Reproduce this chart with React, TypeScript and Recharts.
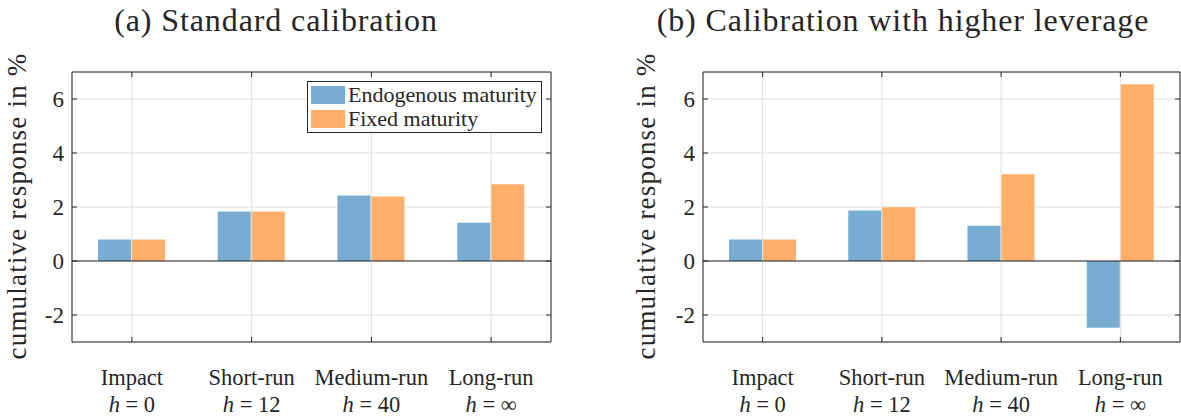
import React from 'react';
import { BarChart, Bar, XAxis, YAxis, CartesianGrid, ReferenceLine, Legend } from 'recharts';

// ---------- data ----------
const categories = ['Impact', 'Short-run', 'Medium-run', 'Long-run'];
const horizons = ['0', '12', '40', '\u221E'];
const seriesNames = ['Endogenous maturity', 'Fixed maturity'];
const endogenousA = [0.8, 1.83, 2.43, 1.42];
const fixedA = [0.8, 1.83, 2.39, 2.84];
const endogenousB = [0.8, 1.87, 1.31, -2.47];
const fixedB = [0.8, 1.99, 3.21, 6.55];
const yTicks = [-2, 0, 2, 4, 6];
const yDomain = [-3, 7];
const titles = ['(a) Standard calibration', '(b) Calibration with higher leverage'];
const yLabel = 'cumulative response in %';

// ---------- style ----------
const FONT = "'Liberation Serif', 'Times New Roman', serif";
const INK = '#262626';
const GRID = '#dfdfdf';
const BLUE = '#78acd2';
const ORANGE = '#feb06b';

const buildData = (endo: number[], fixed: number[]) =>
  categories.map((c, i) => ({ category: c, horizon: horizons[i], endo: endo[i], fixed: fixed[i] }));

const EmptyTick = () => <g />;

const XTick = (props: any) => {
  const { x, y, payload } = props;
  const idx = categories.indexOf(payload.value);
  return (
    <g>
      <text x={x} y={y + 43} textAnchor="middle" style={{ fontFamily: FONT, fontSize: 22.5 }} fill={INK}>
        {payload.value}
      </text>
      <text x={x} y={y + 70} textAnchor="middle" style={{ fontFamily: FONT, fontSize: 22.5 }} fill={INK}>
        <tspan fontStyle="italic">h</tspan>
        {' = ' + horizons[idx]}
      </text>
    </g>
  );
};

const YTick = (props: any) => {
  const { x, y, payload } = props;
  return (
    <text x={x} y={y} dy="0.36em" textAnchor="end" style={{ fontFamily: FONT, fontSize: 23 }} fill={INK}>
      {payload.value}
    </text>
  );
};

const renderLegend = (props: any) => {
  const { payload } = props;
  return (
    <div
      style={{
        position: 'relative',
        width: 235,
        height: 52,
        boxSizing: 'border-box',
        border: `1px solid ${INK}`,
        background: '#fff',
      }}
    >
      {(payload || []).map((entry: any, i: number) => (
        <div
          key={i}
          style={{
            position: 'absolute',
            left: 3,
            top: 1 + i * 24,
            height: 24,
            display: 'flex',
            alignItems: 'center',
            whiteSpace: 'nowrap',
          }}
        >
          <span style={{ display: 'inline-block', width: 34, height: 18, background: entry.color }} />
          <span
            style={{
              marginLeft: 3,
              fontFamily: FONT,
              fontSize: 22,
              lineHeight: '24px',
              color: INK,
            }}
          >
            {entry.value}
          </span>
        </div>
      ))}
    </div>
  );
};

type PanelProps = {
  left: number;
  width: number;
  axisWidth: number;
  rightMargin: number;
  endo: number[];
  fixed: number[];
  showLegend: boolean;
};

const Panel = ({ left, width, axisWidth, rightMargin, endo, fixed, showLegend }: PanelProps) => {
  const data = buildData(endo, fixed);
  return (
    <div style={{ position: 'absolute', left, top: 0 }}>
      <BarChart
        width={width}
        height={419}
        data={data}
        margin={{ top: 72, right: rightMargin, bottom: 0, left: 0 }}
        barGap={1}
        barSize={33}
      >
        <CartesianGrid stroke={GRID} xAxisId="main" yAxisId="main" />
        <XAxis
          xAxisId="main"
          dataKey="category"
          height={77}
          interval={0}
          tickLine={false}
          tickSize={0}
          tickMargin={0}
          axisLine={{ stroke: INK }}
          tick={<XTick />}
        />
        <XAxis
          xAxisId="bottomTicks"
          dataKey="category"
          mirror
          interval={0}
          tickSize={5}
          axisLine={false}
          tickLine={{ stroke: INK }}
          tick={EmptyTick}
        />
        <XAxis
          xAxisId="top"
          dataKey="category"
          orientation="top"
          mirror
          interval={0}
          tickSize={5}
          axisLine={{ stroke: INK }}
          tickLine={{ stroke: INK }}
          tick={EmptyTick}
        />
        <YAxis
          yAxisId="main"
          type="number"
          domain={yDomain}
          ticks={yTicks}
          allowDataOverflow
          width={axisWidth}
          tickLine={false}
          tickSize={0}
          tickMargin={8}
          axisLine={{ stroke: INK }}
          tick={<YTick />}
        />
        <YAxis
          yAxisId="leftTicks"
          type="number"
          domain={yDomain}
          ticks={yTicks}
          allowDataOverflow
          mirror
          tickSize={5}
          axisLine={false}
          tickLine={{ stroke: INK }}
          tick={EmptyTick}
        />
        <YAxis
          yAxisId="right"
          orientation="right"
          type="number"
          domain={yDomain}
          ticks={yTicks}
          allowDataOverflow
          mirror
          tickSize={5}
          axisLine={{ stroke: INK }}
          tickLine={{ stroke: INK }}
          tick={EmptyTick}
        />
        <Bar
          xAxisId="main"
          yAxisId="main"
          dataKey="endo"
          name={seriesNames[0]}
          fill={BLUE}
          isAnimationActive={false}
        />
        <Bar
          xAxisId="main"
          yAxisId="main"
          dataKey="fixed"
          name={seriesNames[1]}
          fill={ORANGE}
          isAnimationActive={false}
        />
        <ReferenceLine xAxisId="main" yAxisId="main" y={0} stroke={INK} strokeWidth={1} />
        {showLegend && (
          <Legend
            layout="vertical"
            align="center"
            verticalAlign="middle"
            content={renderLegend}
            wrapperStyle={{ left: 307, top: 81, width: 235, height: 52 }}
          />
        )}
      </BarChart>
    </div>
  );
};

export default function App() {
  return (
    <div
      style={{
        position: 'absolute',
        left: 0,
        top: 0,
        width: 1181,
        height: 419,
        background: '#fff',
        overflow: 'hidden',
        fontFamily: FONT,
      }}
    >
      <Panel left={0} width={560} axisWidth={72} rightMargin={9} endo={endogenousA} fixed={fixedA} showLegend />
      <Panel left={600} width={581} axisWidth={103} rightMargin={1} endo={endogenousB} fixed={fixedB} showLegend={false} />
      <svg
        width={1181}
        height={419}
        style={{ position: 'absolute', left: 0, top: 0, pointerEvents: 'none' }}
      >
        <text x={276} y={31} textAnchor="middle" style={{ fontFamily: FONT, fontSize: 32, letterSpacing: 0.9 }} fill={INK}>
          {titles[0]}
        </text>
        <text x={903} y={31} textAnchor="middle" style={{ fontFamily: FONT, fontSize: 32, letterSpacing: 0.9 }} fill={INK}>
          {titles[1]}
        </text>
        <text
          x={26}
          y={206}
          transform="rotate(-90 26 206)"
          textAnchor="middle"
          style={{ fontFamily: FONT, fontSize: 27, letterSpacing: 1.2 }}
          fill={INK}
        >
          {yLabel}
        </text>
        <text
          x={655}
          y={206}
          transform="rotate(-90 655 206)"
          textAnchor="middle"
          style={{ fontFamily: FONT, fontSize: 27, letterSpacing: 1.2 }}
          fill={INK}
        >
          {yLabel}
        </text>
      </svg>
    </div>
  );
}
